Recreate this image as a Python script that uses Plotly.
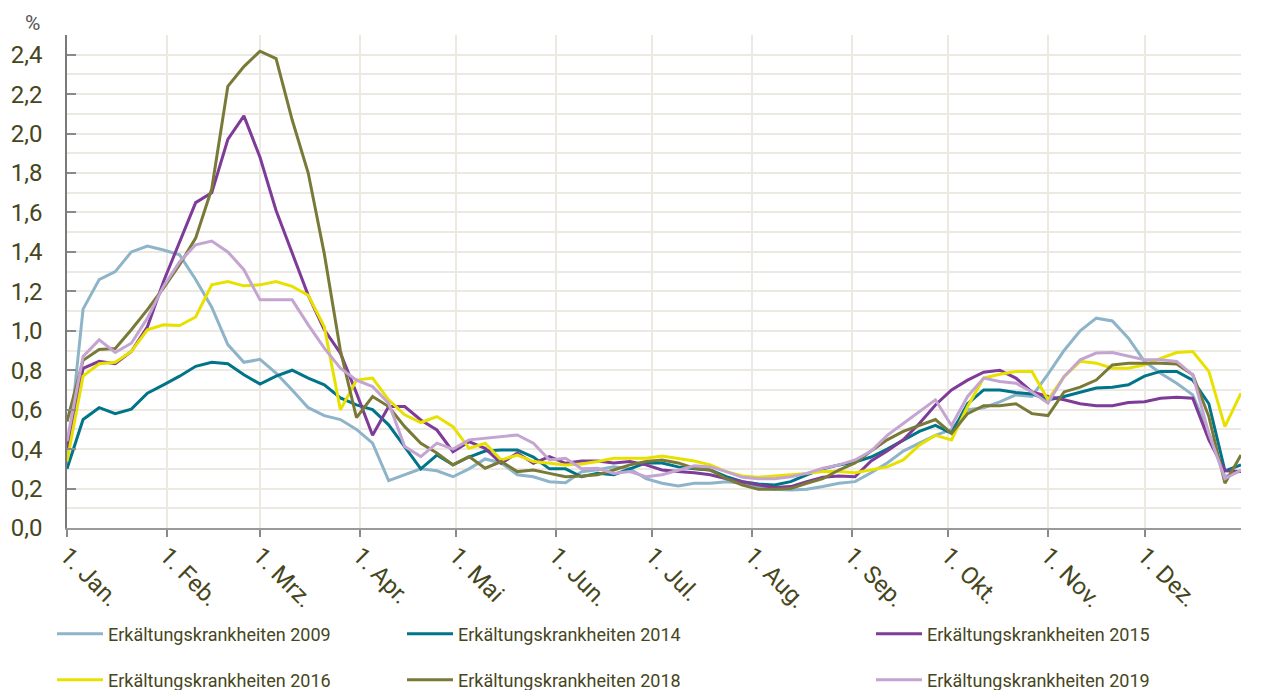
import plotly.graph_objects as go

days = list(range(0, 366, 5))

month_pos = [0, 31, 60, 91, 121, 152, 182, 213, 244, 274, 305, 335]
month_labels = ["1. Jan.", "1. Feb.", "1. Mrz.", "1. Apr.", "1. Mai", "1. Jun.",
                "1. Jul.", "1. Aug.", "1. Sep.", "1. Okt.", "1. Nov.", "1. Dez."]

y2009 = [0.33, 1.11, 1.26, 1.30, 1.40, 1.43, 1.41, 1.385, 1.26, 1.12,
         0.93, 0.84, 0.855, 0.785, 0.70, 0.61, 0.57, 0.55, 0.50, 0.43,
         0.24, 0.27, 0.30, 0.29, 0.26, 0.30, 0.35, 0.33, 0.27, 0.26,
         0.235, 0.23, 0.285, 0.295, 0.31, 0.30, 0.25, 0.227, 0.213, 0.227,
         0.227, 0.235, 0.227, 0.206, 0.196, 0.193, 0.196, 0.21, 0.227, 0.235,
         0.28, 0.33, 0.39, 0.43, 0.47, 0.50, 0.60, 0.61, 0.64, 0.675,
         0.667, 0.78, 0.90, 1.0, 1.064, 1.05, 0.963, 0.845, 0.785, 0.734,
         0.675, 0.48, 0.26, 0.29]
y2014 = [0.30, 0.55, 0.61, 0.58, 0.603, 0.684, 0.726, 0.77, 0.82, 0.84,
         0.833, 0.777, 0.73, 0.77, 0.80, 0.76, 0.726, 0.66, 0.624, 0.60,
         0.523, 0.413, 0.30, 0.37, 0.32, 0.36, 0.39, 0.396, 0.396, 0.36,
         0.30, 0.30, 0.26, 0.277, 0.27, 0.30, 0.33, 0.33, 0.31, 0.30,
         0.294, 0.26, 0.235, 0.223, 0.218, 0.235, 0.27, 0.30, 0.32, 0.335,
         0.36, 0.40, 0.447, 0.49, 0.52, 0.48, 0.63, 0.70, 0.70, 0.687,
         0.68, 0.65, 0.667, 0.69, 0.71, 0.714, 0.726, 0.77, 0.794, 0.794,
         0.75, 0.63, 0.29, 0.32]
y2015 = [0.40, 0.81, 0.845, 0.833, 0.895, 1.02, 1.25, 1.45, 1.65, 1.70,
         1.97, 2.09, 1.88, 1.61, 1.39, 1.18, 1.005, 0.887, 0.684, 0.47,
         0.616, 0.616, 0.548, 0.497, 0.387, 0.438, 0.404, 0.328, 0.38, 0.328,
         0.362, 0.328, 0.34, 0.34, 0.33, 0.337, 0.32, 0.294, 0.286, 0.28,
         0.27, 0.25, 0.235, 0.218, 0.206, 0.21, 0.235, 0.257, 0.264, 0.26,
         0.34, 0.39, 0.447, 0.53, 0.624, 0.70, 0.75, 0.79, 0.80, 0.76,
         0.69, 0.667, 0.65, 0.63, 0.62, 0.62, 0.636, 0.64, 0.658, 0.663,
         0.658, 0.447, 0.29, 0.286]
y2016 = [0.337, 0.77, 0.833, 0.84, 0.895, 1.005, 1.03, 1.027, 1.07, 1.233,
         1.25, 1.228, 1.233, 1.25, 1.225, 1.18, 1.02, 0.60, 0.75, 0.76,
         0.65, 0.574, 0.535, 0.565, 0.514, 0.404, 0.43, 0.345, 0.37, 0.337,
         0.328, 0.32, 0.325, 0.337, 0.354, 0.354, 0.354, 0.365, 0.354, 0.34,
         0.32, 0.286, 0.264, 0.257, 0.264, 0.27, 0.277, 0.286, 0.286, 0.28,
         0.294, 0.31, 0.345, 0.42, 0.47, 0.447, 0.616, 0.76, 0.78, 0.794,
         0.794, 0.65, 0.768, 0.845, 0.836, 0.81, 0.81, 0.827, 0.86, 0.89,
         0.895, 0.794, 0.514, 0.684]
y2018 = [0.54, 0.85, 0.905, 0.91, 1.005, 1.107, 1.217, 1.335, 1.47, 1.72,
         2.24, 2.34, 2.418, 2.38, 2.07, 1.80, 1.39, 0.90, 0.56, 0.667,
         0.616, 0.514, 0.43, 0.38, 0.32, 0.362, 0.303, 0.337, 0.286, 0.294,
         0.277, 0.26, 0.264, 0.27, 0.294, 0.32, 0.337, 0.345, 0.33, 0.303,
         0.294, 0.25, 0.218, 0.196, 0.196, 0.20, 0.227, 0.25, 0.294, 0.33,
         0.39, 0.447, 0.49, 0.52, 0.55, 0.48, 0.58, 0.62, 0.62, 0.63,
         0.58, 0.57, 0.69, 0.714, 0.75, 0.827, 0.836, 0.836, 0.836, 0.832,
         0.777, 0.565, 0.227, 0.37]
y2019 = [0.44, 0.87, 0.954, 0.89, 0.937, 1.064, 1.225, 1.35, 1.436, 1.455,
         1.40, 1.31, 1.157, 1.157, 1.157, 1.03, 0.912, 0.81, 0.75, 0.717,
         0.633, 0.413, 0.362, 0.43, 0.40, 0.447, 0.455, 0.464, 0.472, 0.43,
         0.345, 0.354, 0.30, 0.303, 0.277, 0.286, 0.26, 0.27, 0.294, 0.315,
         0.31, 0.286, 0.257, 0.25, 0.25, 0.26, 0.277, 0.303, 0.32, 0.345,
         0.39, 0.47, 0.53, 0.59, 0.65, 0.52, 0.667, 0.76, 0.743, 0.734,
         0.69, 0.633, 0.768, 0.853, 0.887, 0.89, 0.87, 0.853, 0.853, 0.845,
         0.777, 0.48, 0.25, 0.294]

series_names = ["Erkältungskrankheiten 2009", "Erkältungskrankheiten 2014",
                "Erkältungskrankheiten 2015", "Erkältungskrankheiten 2016",
                "Erkältungskrankheiten 2018", "Erkältungskrankheiten 2019"]
series_values = [y2009, y2014, y2015, y2016, y2018, y2019]
colors = ["#8db4c8", "#007489", "#7e3b97", "#e8e100", "#7a7a38", "#c4a5d2"]

TXT = "#46461c"
FONT = "Roboto, Lato, sans-serif"

# page has an 8px body margin: figure coords = screen coords - 8
OFF = 8
W, H = 1274 - 2 * OFF, 698 - 2 * OFF
plot_l, plot_r, plot_t, plot_b = 67 - OFF, 1241 - OFF, 35 - OFF, 528 - OFF
plot_w, plot_h = plot_r - plot_l, plot_b - plot_t

# legend placement in screen pixels -> paper coords
leg_px = [(52, 634), (402, 634), (871, 634), (52, 680), (402, 680), (871, 680)]
legend_ids = ["legend", "legend2", "legend3", "legend4", "legend5", "legend6"]

fig = go.Figure()
for name, vals, col, lid in zip(series_names, series_values, colors, legend_ids):
    fig.add_trace(go.Scatter(x=days, y=vals, mode="lines", name=name,
                             line=dict(color=col, width=3), legend=lid))

layout_legends = {}
for lid, (px, py) in zip(legend_ids, leg_px):
    layout_legends[lid] = dict(
        x=(px - OFF - plot_l) / plot_w, y=(plot_b - (py - OFF)) / plot_h,
        xanchor="left", yanchor="middle", bgcolor="rgba(0,0,0,0)",
        font=dict(family=FONT, size=18, color=TXT), itemwidth=46,
    )

fig.update_layout(
    width=W, height=H,
    margin=dict(l=plot_l, r=W - plot_r, t=plot_t, b=H - plot_b, autoexpand=False),
    paper_bgcolor="white", plot_bgcolor="white",
    separators=",.",
    font=dict(family=FONT, color=TXT, size=22),
    showlegend=True,
    **layout_legends,
    xaxis=dict(
        range=[0, 365], tickmode="array", tickvals=month_pos, ticktext=month_labels,
        tickangle=45, showgrid=True, gridcolor="#ece9e3", gridwidth=1.5,
        showline=True, linecolor="#9a9a9a", linewidth=2,
        ticks="outside", ticklen=7, tickwidth=1.5, tickcolor="#8a8a8a",
        tickfont=dict(family=FONT, size=24, color=TXT), zeroline=False,
        automargin=False, ticklabelstandoff=-5,
    ),
    yaxis=dict(
        range=[0, 2.5], tick0=0, dtick=0.2, tickformat=".1f",
        showgrid=True, gridcolor="#ece9e3", gridwidth=1.5,
        minor=dict(dtick=0.1, showgrid=True, gridcolor="#ece9e3", gridwidth=1.5),
        showline=True, linecolor="#7a7a7a", linewidth=1.5,
        ticks="inside", ticklen=9, tickwidth=2, tickcolor="#8a8a8a",
        tickfont=dict(family=FONT, size=24, color=TXT), zeroline=False,
        ticklabelstandoff=18, automargin=False,
    ),
    annotations=[dict(text="%", xref="paper", yref="paper",
                      x=(32 - OFF - plot_l) / plot_w, y=(plot_b - 1) / plot_h,
                      xanchor="center", yanchor="top",
                      showarrow=False, font=dict(family=FONT, size=21, color="#555"))],
)

fig.write_html("out.html")
